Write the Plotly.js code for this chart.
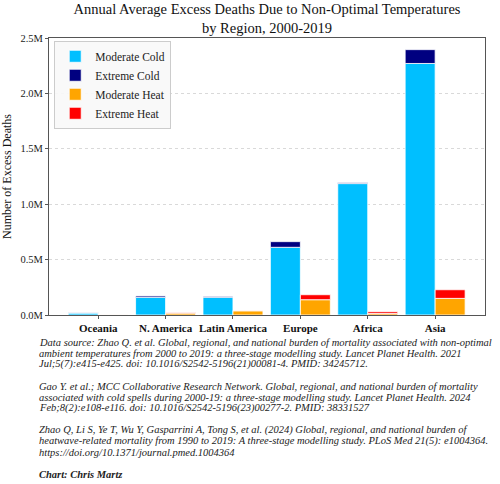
<!DOCTYPE html>
<html>
<head>
<meta charset="utf-8">
<script src="https://cdn.plot.ly/plotly-3.0.1.min.js"></script>
<style>
  html, body { margin: 0; padding: 0; background: #fff; }
  #chart { width: 500px; height: 484px; }
</style>
</head>
<body>
<div id="chart"></div>
<script>
  // Annual average excess deaths, 2000-2019.
  const regions = ["Oceania", "N. America", "Latin America", "Europe", "Africa", "Asia"];
  const moderateCold = [18000, 160000, 160000, 611000, 1186000, 2270000];
  const extremeCold = [2000, 12000, 8000, 51000, 8000, 125000];
  const moderateHeat = [1500, 17000, 38000, 138000, 13000, 150000];
  const extremeHeat = [500, 5000, 2000, 45000, 16000, 78000];

  const yTicks = [0, 500000, 1000000, 1500000, 2000000, 2500000];
  const yTickText = ["0.0M", "0.5M", "1.0M", "1.5M", "2.0M", "2.5M"];

  const sourceLines = [
    "<i>Data source: Zhao Q. et al. Global, regional, and national burden of mortality associated with non-optimal</i>",
    "<i>ambient temperatures from 2000 to 2019: a three-stage modelling study. Lancet Planet Health. 2021</i>",
    "<i>Jul;5(7):e415-e425. doi: 10.1016/S2542-5196(21)00081-4. PMID: 34245712.</i>",
    "",
    "<i>Gao Y. et al.; MCC Collaborative Research Network. Global, regional, and national burden of mortality</i>",
    "<i>associated with cold spells during 2000-19: a three-stage modelling study. Lancet Planet Health. 2024</i>",
    "<i>Feb;8(2):e108-e116. doi: 10.1016/S2542-5196(23)00277-2. PMID: 38331527</i>",
    "",
    "<i>Zhao Q, Li S, Ye T, Wu Y, Gasparrini A, Tong S, et al. (2024) Global, regional, and national burden of</i>",
    "<i>heatwave-related mortality from 1990 to 2019: A three-stage modelling study. PLoS Med 21(5): e1004364.</i>",
    "<i>https://doi.org/10.1371/journal.pmed.1004364</i>",
    "",
    "<b><i>Chart: Chris Martz</i></b>",
  ];

  const FONT = "'Liberation Serif', 'DejaVu Serif', serif";
  const EDGE = { color: "#ffffff", width: 0.8 };
  const WIDTH = 0.445;

  function bar(name, values, color, offset, base) {
    const trace = {
      type: "bar",
      name: name,
      x: regions,
      y: values,
      width: WIDTH,
      offset: offset,
      marker: { color: color, line: EDGE },
      hovertemplate: "%{x}<br>" + name + ": %{y:,.0f}<extra></extra>",
    };
    if (base) {
      trace.base = base;
    }
    return trace;
  }

  const traces = [
    bar("Moderate Cold", moderateCold, "#00bfff", -WIDTH),
    bar("Extreme Cold", extremeCold, "#000080", -WIDTH, moderateCold),
    bar("Moderate Heat", moderateHeat, "#ffa500", 0),
    bar("Extreme Heat", extremeHeat, "#ff0000", 0, moderateHeat),
  ];

  // Plot box is 277px tall; the source notes sit below it at 11px line steps.
  const PLOT_H = 277;
  const annotations = sourceLines.map(function (line, i) {
    return {
      xref: "paper",
      yref: "paper",
      x: -0.028,
      y: -(27 + i * 11) / PLOT_H,
      xanchor: "left",
      yanchor: "middle",
      align: "left",
      showarrow: false,
      text: line,
      font: { family: FONT, size: 10.5, color: "#222" },
    };
  });

  const layout = {
    width: 500,
    height: 484,
    margin: { l: 49, r: 15, t: 38, b: 169 },
    paper_bgcolor: "#ffffff",
    plot_bgcolor: "#ffffff",
    font: { family: FONT, size: 11, color: "#222" },
    barmode: "overlay",
    showlegend: true,
    title: {
      text: "Annual Average Excess Deaths Due to Non-Optimal Temperatures<br>by Region, 2000-2019",
      font: { family: FONT, size: 14.5, color: "#111" },
      x: 0.5,
      xref: "paper",
      y: 0.9715,
      yref: "container",
      yanchor: "middle",
    },
    legend: {
      x: 0.012,
      y: 0.99,
      xanchor: "left",
      yanchor: "top",
      bgcolor: "rgba(248,248,248,0.9)",
      bordercolor: "#cccccc",
      borderwidth: 1,
      font: { family: FONT, size: 11.5, color: "#222" },
      traceorder: "normal",
    },
    xaxis: {
      type: "category",
      range: [-0.73, 5.74],
      showgrid: false,
      showline: true,
      mirror: true,
      linecolor: "#555",
      linewidth: 1,
      ticks: "outside",
      ticklen: 3,
      tickcolor: "#555",
      tickfont: { family: FONT, size: 11, color: "#111", weight: "bold" },
    },
    yaxis: {
      range: [0, 2500000],
      tickvals: yTicks,
      ticktext: yTickText,
      showgrid: true,
      gridcolor: "#d9d9d9",
      griddash: "dot",
      zeroline: false,
      showline: true,
      mirror: true,
      linecolor: "#555",
      linewidth: 1,
      ticks: "outside",
      ticklen: 3,
      tickcolor: "#555",
      tickfont: { family: FONT, size: 10.5, color: "#222" },
      title: {
        text: "Number of Excess Deaths",
        font: { family: FONT, size: 12, color: "#111" },
        standoff: 6,
      },
    },
    annotations: annotations,
  };

  Plotly.newPlot("chart", traces, layout, { displayModeBar: false, staticPlot: true });
</script>
</body>
</html>
